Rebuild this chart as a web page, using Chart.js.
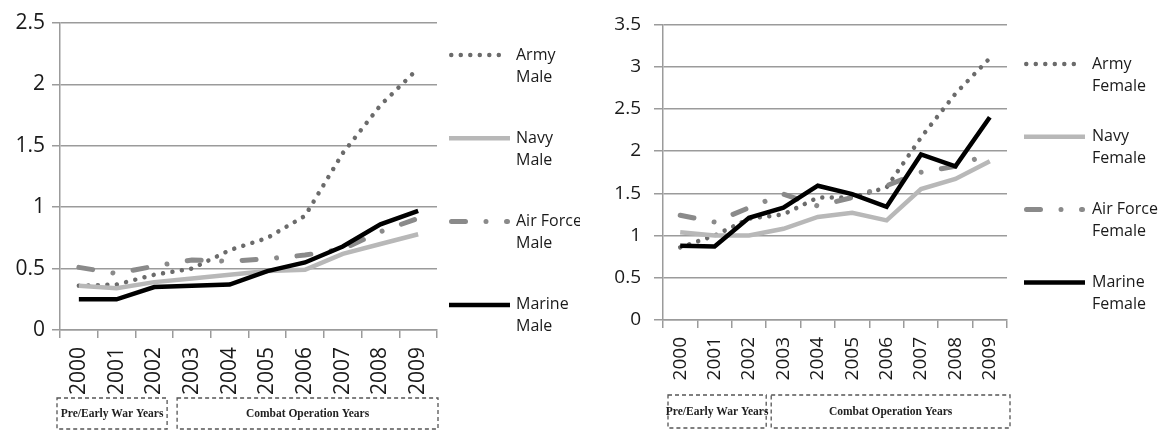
<!DOCTYPE html>
<html>
<head>
<meta charset="utf-8">
<script src="https://cdn.jsdelivr.net/npm/chart.js@4.4.1/dist/chart.umd.min.js"></script>
<style>
  body { margin: 0; background: #fff; }
  .panel { position: absolute; top: 0; height: 431px; }
  #leftPanel { left: 0; width: 580px; }
  #rightPanel { left: 580px; width: 582px; }
</style>
</head>
<body>
<div class="panel" id="leftPanel"><canvas id="maleChart" width="580" height="431"></canvas></div>
<div class="panel" id="rightPanel"><canvas id="femaleChart" width="582" height="431"></canvas></div>
<script>
// categorias
const years = ["2000", "2001", "2002", "2003", "2004", "2005", "2006", "2007", "2008", "2009"]

// hombres
const armyMale = [0.36, 0.37, 0.45, 0.5, 0.65, 0.75, 0.93, 1.44, 1.83, 2.13]
const navyMale = [0.36, 0.34, 0.39, 0.42, 0.45, 0.48, 0.49, 0.62, 0.7, 0.78]
const airForceMale = [0.51, 0.46, 0.52, 0.57, 0.56, 0.58, 0.61, 0.66, 0.8, 0.91]
const marineMale = [0.25, 0.25, 0.35, 0.36, 0.37, 0.48, 0.55, 0.68, 0.86, 0.97]

// mujeres
const armyFemale = [0.86, 1.0, 1.2, 1.25, 1.45, 1.45, 1.57, 2.16, 2.68, 3.1]
const navyFemale = [1.04, 1.0, 1.0, 1.08, 1.22, 1.27, 1.18, 1.55, 1.67, 1.88]
const airForceFemale = [1.24, 1.16, 1.33, 1.49, 1.35, 1.45, 1.59, 1.75, 1.82, 1.97]
const marineFemale = [0.88, 0.87, 1.21, 1.33, 1.59, 1.49, 1.34, 1.96, 1.82, 2.4]

// etiquetas de ejes y periodos
const yTicksMale = [0, 0.5, 1, 1.5, 2, 2.5]
const yTicksFemale = [0, 0.5, 1, 1.5, 2, 2.5, 3, 3.5]
const periodLabels = ["Pre/Early War Years", "Combat Operation Years"]
const periodRanges = [[0, 2], [3, 9]]

const gridColor = "#9b9b9b"

// Leyenda lateral dibujada con el estilo de cada serie
const sideLegend = {
  id: "sideLegend",
  afterDraw(chart, args, opts) {
    const ctx = chart.ctx
    ctx.save()
    chart.data.datasets.forEach((ds, i) => {
      const y = opts.y + i * opts.rowGap
      ctx.beginPath()
      ctx.strokeStyle = ds.borderColor
      ctx.lineWidth = ds.borderWidth
      ctx.lineCap = ds.borderCapStyle || "butt"
      ctx.setLineDash(ds.borderDash || [])
      const cap = ctx.lineCap === "round" ? ds.borderWidth / 2 : 0
      ctx.moveTo(opts.x + cap, y)
      ctx.lineTo(opts.x + opts.sampleWidth - cap, y)
      ctx.stroke()
      ctx.setLineDash([])
      ctx.fillStyle = "#1a1a1a"
      ctx.font = opts.font
      ctx.textAlign = "left"
      ctx.textBaseline = "middle"
      ds.legendText.forEach((t, j) => {
        ctx.fillText(t, opts.x + opts.sampleWidth + opts.textGap, y + j * opts.lineGap)
      })
    })
    ctx.restore()
  },
}

// Cajas punteadas de los periodos bajo el eje x
const periodBoxes = {
  id: "periodBoxes",
  afterDraw(chart, args, opts) {
    const ctx = chart.ctx
    const xs = chart.scales.x
    const half = (xs.getPixelForValue(1) - xs.getPixelForValue(0)) / 2
    ctx.save()
    periodRanges.forEach((r, i) => {
      const x1 = xs.getPixelForValue(r[0]) - half + opts.insets[i][0]
      const x2 = xs.getPixelForValue(r[1]) + half + opts.insets[i][1]
      ctx.strokeStyle = "#555"
      ctx.lineWidth = 1.3
      ctx.setLineDash([4, 3])
      ctx.strokeRect(x1, opts.top, x2 - x1, opts.bottom - opts.top)
      ctx.setLineDash([])
      ctx.fillStyle = "#222"
      ctx.font = "bold 11.5px 'Liberation Serif', 'Times New Roman', serif"
      ctx.textAlign = "center"
      ctx.textBaseline = "middle"
      ctx.fillText(periodLabels[i], (x1 + x2) / 2, (opts.top + opts.bottom) / 2 + 1)
    })
    ctx.restore()
  },
}

function makeDatasets(army, navy, airForce, marine, suffix) {
  return [
    {
      data: army, legendText: ["Army", suffix], order: 4,
      borderColor: "#6b6b6b", borderWidth: 4.5, borderDash: [0.01, 9.5], borderCapStyle: "round",
    },
    {
      data: navy, legendText: ["Navy", suffix], order: 3,
      borderColor: "#b8b8b8", borderWidth: 4.5,
    },
    {
      data: airForce, legendText: ["Air Force", suffix], order: 2,
      borderColor: "#8a8a8a", borderWidth: 5, borderDash: [14, 20.5, 0.01, 20.5], borderCapStyle: "round",
    },
    {
      data: marine, legendText: ["Marine", suffix], order: 1,
      borderColor: "#000", borderWidth: 4.5,
    },
  ]
}

function makeChart(canvasId, datasets, cfg) {
  return new Chart(document.getElementById(canvasId), {
    type: "line",
    data: { labels: years, datasets },
    options: {
      responsive: false,
      animation: false,
      layout: { padding: { left: 0, right: cfg.padRight, top: 23, bottom: 0 } },
      elements: { point: { radius: 0 }, line: { tension: 0 } },
      plugins: {
        legend: { display: false },
        tooltip: { enabled: false },
        sideLegend: cfg.legend,
        periodBoxes: cfg.boxes,
      },
      scales: {
        x: {
          offset: true,
          afterFit: (s) => { s.height = cfg.xHeight },
          grid: { offset: true, drawOnChartArea: false, color: gridColor, lineWidth: 1.5, tickLength: 8 },
          border: { color: gridColor, width: 1.5 },
          ticks: {
            autoSkip: false, minRotation: 90, maxRotation: 90, padding: 9,
            color: "#1a1a1a", font: { family: "'Open Sans', sans-serif", size: cfg.fontSize },
          },
        },
        y: {
          min: 0,
          max: cfg.yTicks[cfg.yTicks.length - 1],
          afterFit: (s) => { s.width = cfg.yWidth },
          afterBuildTicks: (s) => { s.ticks = cfg.yTicks.map((v) => ({ value: v })) },
          grid: { color: gridColor, lineWidth: 1.5, tickLength: cfg.yTickLen },
          border: { color: gridColor, width: 1.5 },
          ticks: {
            padding: cfg.yPad,
            callback: (v) => String(v),
            color: "#1a1a1a", font: { family: "'Open Sans', sans-serif", size: cfg.fontSize },
          },
        },
      },
    },
    plugins: [sideLegend, periodBoxes],
  })
}

makeChart("maleChart", makeDatasets(armyMale, navyMale, airForceMale, marineMale, "Male"), {
  padRight: 143, xHeight: 101, yWidth: 60, yTickLen: 8, yPad: 7, fontSize: 21, yTicks: yTicksMale,
  legend: { x: 449, y: 55, rowGap: 83.3, lineGap: 22, sampleWidth: 61, textGap: 6, font: "16px 'Open Sans', sans-serif" },
  boxes: { top: 398, bottom: 429, insets: [[-3, -6], [4, 1]] },
})

makeChart("femaleChart", makeDatasets(armyFemale, navyFemale, airForceFemale, marineFemale, "Female"), {
  padRight: 155, xHeight: 111, yWidth: 83, yTickLen: 9, yPad: 13, fontSize: 19, yTicks: yTicksFemale,
  legend: { x: 444, y: 64, rowGap: 72.8, lineGap: 22, sampleWidth: 61, textGap: 7, font: "16px 'Open Sans', sans-serif" },
  boxes: { top: 395, bottom: 428, insets: [[5, 0], [5, 3]] },
})
</script>
</body>
</html>
